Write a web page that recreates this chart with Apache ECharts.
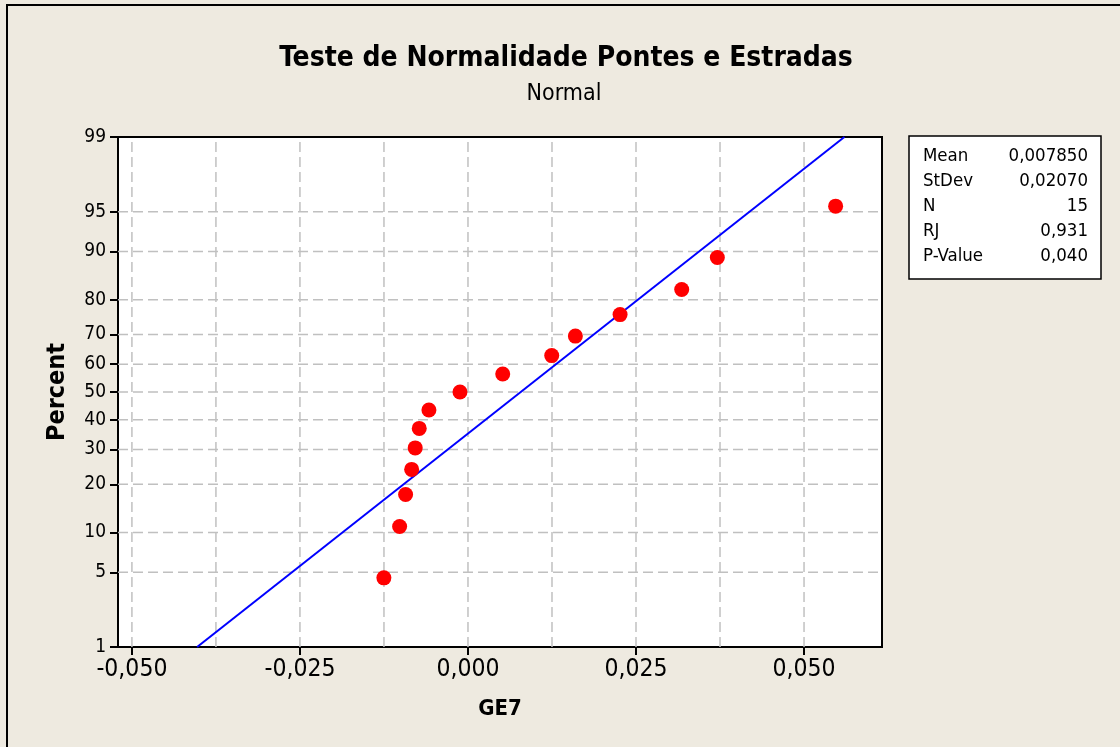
<!DOCTYPE html>
<html>
<head>
<meta charset="utf-8">
<script src="https://cdn.jsdelivr.net/npm/echarts@6/dist/echarts.min.js"></script>
<style>
  html, body { margin: 0; padding: 0; background: #eeeae0; }
  #chart { width: 1120px; height: 747px; }
</style>
</head>
<body>
<div id="chart"></div>
<script>
// data
const ge7 = [-0.01251, -0.01017, -0.00928, -0.00838, -0.00785, -0.00725, -0.00581, -0.00119,
             0.00517, 0.01246, 0.01598, 0.02263, 0.0318, 0.0371, 0.0547];
const percent = [4.5, 11.0, 17.5, 24.0, 30.5, 37.0, 43.5, 50.0, 56.5, 63.0, 69.5, 76.0, 82.5, 89.0, 95.5];

// fitted normal line end points (x, percent)
const fitX = [-0.0403, 0.0560];
const fitP = [1, 99];

const xTicks = [-0.050, -0.025, 0.000, 0.025, 0.050];
const xGrid = [-0.05, -0.0375, -0.025, -0.0125, 0, 0.0125, 0.025, 0.0375, 0.05];
const yTicks = [1, 5, 10, 20, 30, 40, 50, 60, 70, 80, 90, 95, 99];

const statLabels = ['Mean', 'StDev', 'N', 'RJ', 'P-Value'];
const statValues = ['0,007850', '0,02070', '15', '0,931', '0,040'];

const X_MIN = -0.05207, X_MAX = 0.0616;
const FONT = 'Tahoma, "DejaVu Sans Condensed", "Liberation Sans", sans-serif';

// inverse normal cdf (Acklam) -> probability scale for the y axis
function probit(p) {
  const a = [-39.69683028665376, 220.9460984245205, -275.9285104469687, 138.3577518672690, -30.66479806614716, 2.506628277459239];
  const b = [-54.47609879822406, 161.5858368580409, -155.6989798598866, 66.80131188771972, -13.28068155288572];
  const c = [-0.007784894002430293, -0.3223964580411365, -2.400758277161838, -2.549732539343734, 4.374664141464968, 2.938163982698783];
  const d = [0.007784695709041462, 0.3224671290700398, 2.445134137142996, 3.754408661907416];
  const pl = 0.02425;
  let q, r;
  if (p < pl) {
    q = Math.sqrt(-2 * Math.log(p));
    return (((((c[0]*q+c[1])*q+c[2])*q+c[3])*q+c[4])*q+c[5]) / ((((d[0]*q+d[1])*q+d[2])*q+d[3])*q+1);
  }
  if (p > 1 - pl) {
    q = Math.sqrt(-2 * Math.log(1 - p));
    return -(((((c[0]*q+c[1])*q+c[2])*q+c[3])*q+c[4])*q+c[5]) / ((((d[0]*q+d[1])*q+d[2])*q+d[3])*q+1);
  }
  q = p - 0.5;
  r = q * q;
  return (((((a[0]*r+a[1])*r+a[2])*r+a[3])*r+a[4])*r+a[5])*q / (((((b[0]*r+b[1])*r+b[2])*r+b[3])*r+b[4])*r+1);
}
const z = p => probit(p / 100);
const yTickZ = yTicks.map(z);
const Y_MIN = z(1), Y_MAX = z(99);

const chart = echarts.init(document.getElementById('chart'));

const gridStyle = { color: '#c0c0c0', width: 1.5, type: [10, 5] };

// dashed reference grid as plain line series
const gridSeries = [];
xGrid.forEach(v => {
  gridSeries.push({
    type: 'line', silent: true, showSymbol: false, z: 1,
    data: [[v, Y_MIN], [v, Y_MAX]], lineStyle: gridStyle
  });
});
yTicks.slice(1, -1).forEach(p => {
  gridSeries.push({
    type: 'line', silent: true, showSymbol: false, z: 1,
    data: [[X_MIN, z(p)], [X_MAX, z(p)]], lineStyle: gridStyle
  });
});

const statTexts = [];
statLabels.forEach((lab, i) => {
  statTexts.push({
    type: 'text', x: 923, y: 156 + i * 25,
    style: { text: lab, font: '18.5px ' + FONT, fill: '#000', textVerticalAlign: 'middle' }
  });
  statTexts.push({
    type: 'text', x: 1088, y: 156 + i * 25,
    style: { text: statValues[i], font: '18.5px ' + FONT, fill: '#000', textAlign: 'right', textVerticalAlign: 'middle' }
  });
});

chart.setOption({
  backgroundColor: '#eeeae0',
  animation: false,
  grid: {
    left: 118, top: 137, width: 764, height: 510,
    show: true, backgroundColor: '#ffffff', borderColor: '#000', borderWidth: 2
  },
  xAxis: {
    type: 'value',
    min: X_MIN, max: X_MAX,
    name: 'GE7', nameLocation: 'middle', nameGap: 51,
    nameTextStyle: { fontFamily: FONT, fontWeight: 'bold', fontSize: 22, color: '#000' },
    axisLine: { show: true, onZero: false, lineStyle: { color: '#000', width: 2 } },
    axisTick: { show: true, length: 8, customValues: xTicks, lineStyle: { color: '#000', width: 2 } },
    axisLabel: {
      customValues: xTicks, margin: 10, color: '#000', fontFamily: FONT, fontSize: 24.5,
      formatter: v => (Math.abs(v) < 1e-9 ? 0 : v).toFixed(3).replace('.', ',')
    },
    splitLine: { show: false }
  },
  yAxis: {
    type: 'value',
    min: Y_MIN, max: Y_MAX,
    name: 'Percent', nameLocation: 'middle', nameGap: 48, nameRotate: 90,
    nameTextStyle: { fontFamily: FONT, fontWeight: 'bold', fontSize: 25, color: '#000' },
    axisLine: { show: true, onZero: false, lineStyle: { color: '#000', width: 2 } },
    axisTick: { show: true, length: 8, customValues: yTickZ, lineStyle: { color: '#000', width: 2 } },
    axisLabel: {
      customValues: yTickZ, margin: 12, color: '#000', fontFamily: FONT, fontSize: 19,
      formatter: v => {
        const i = yTickZ.findIndex(t => Math.abs(t - v) < 1e-6);
        return i >= 0 ? String(yTicks[i]) : '';
      }
    },
    splitLine: { show: false }
  },
  series: gridSeries.concat([
    {
      type: 'line', name: 'fit', showSymbol: false, z: 3,
      data: fitX.map((x, i) => [x, z(fitP[i])]),
      lineStyle: { color: '#0000ff', width: 2 }
    },
    {
      type: 'scatter', name: 'GE7', z: 4,
      symbol: 'circle', symbolSize: 15,
      itemStyle: { color: '#ff0000', opacity: 1 },
      data: ge7.map((x, i) => [x, z(percent[i])])
    }
  ]),
  graphic: [
    {
      type: 'rect', shape: { x: 7, y: 5, width: 1200, height: 800 },
      style: { fill: 'none', stroke: '#000', lineWidth: 2 }, silent: true
    },
    {
      type: 'text', x: 566, y: 59,
      style: { text: 'Teste de Normalidade Pontes e Estradas', font: 'bold 28px ' + FONT, fill: '#000', textAlign: 'center', textVerticalAlign: 'middle' }
    },
    {
      type: 'text', x: 564, y: 94,
      style: { text: 'Normal', font: '23px ' + FONT, fill: '#000', textAlign: 'center', textVerticalAlign: 'middle' }
    },
    {
      type: 'rect', shape: { x: 909, y: 136, width: 192, height: 143 },
      style: { fill: '#ffffff', stroke: '#000', lineWidth: 1.5 }
    }
  ].concat(statTexts)
});
</script>
</body>
</html>
